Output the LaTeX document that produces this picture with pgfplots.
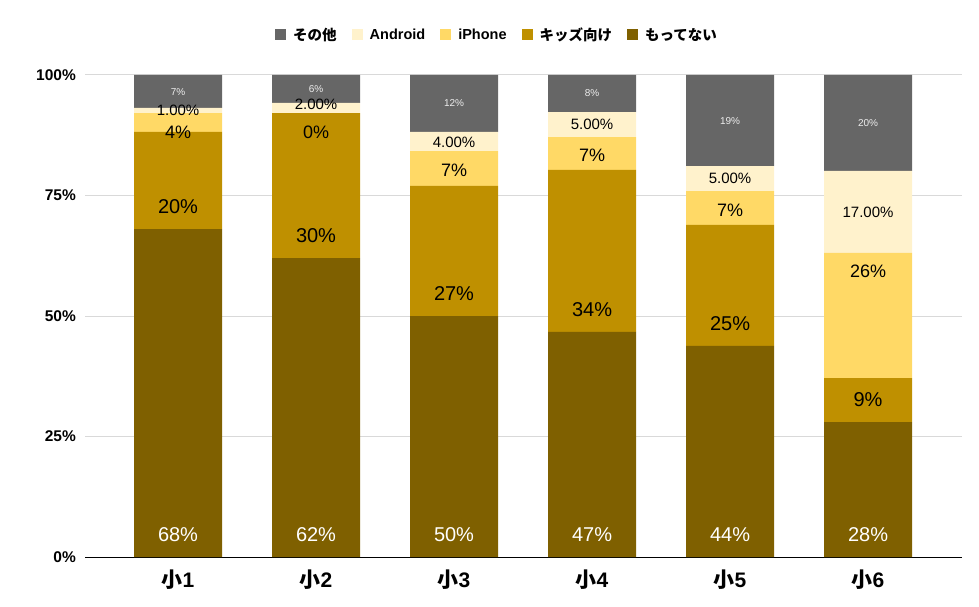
\documentclass[border=0pt]{standalone}
\usepackage{fontspec}
\setmainfont{Liberation Sans}
\newfontfamily\cjk{Noto Sans CJK JP}
\usepackage{pgfplots}
\usepackage{pgfplotstable}
\pgfplotsset{compat=1.18}
\definecolor{cOther}{HTML}{666666}
\definecolor{cAnd}{HTML}{FFF2CC}
\definecolor{cIph}{HTML}{FFD966}
\definecolor{cKid}{HTML}{BF9000}
\definecolor{cMot}{HTML}{7F6000}
\definecolor{cGrid}{HTML}{D9D9D9}
\pgfplotsset{sqlegend/.style={legend image code/.code={\fill[##1] (0pt,-5.5pt) rectangle (11pt,5.5pt);}}}

\pgfplotstableread{
x mot kid iph and oth
0 68   20.2 3.9 1.1 6.8
1 62   30.1 0   2.1 5.8
2 50   27   7.2 4   11.8
3 46.7 33.6 6.8 5.2 7.7
4 43.8 25.1 7   5.2 18.9
5 28   9.1  26  17  19.9
}\bars

\pgfplotstableread{
x y lab
0 4.6 68
1 4.6 62
2 4.6 50
3 4.6 47
4 4.6 44
5 4.6 28
}\labMot
\pgfplotstableread{
x y lab
0 72.6 20
1 66.7 30
2 54.7 27
3 51.3 34
4 48.4 25
5 32.6 9
}\labKid
\pgfplotstableread{
x y lab
0 88.2 4
1 88.2 0
2 80.2 7
3 83.3 7
4 72.0 7
5 59.2 26
}\labIph
\pgfplotstableread{
x y lab
0 92.7 1.00
1 94.0 2.00
2 86.0 4.00
3 89.7 5.00
4 78.5 5.00
5 71.6 17.00
}\labAnd
\pgfplotstableread{
x y lab
0 96.5 7
1 97.1 6
2 94.1 12
3 96.2 8
4 90.5 19
5 90.0 20
}\labOth

\begin{document}
\begin{tikzpicture}
\path[use as bounding box] (0,0) rectangle (979pt,606pt);
\pgfplotsset{common/.style={
  scale only axis, width=877pt, height=482pt,
  xmin=-0.674, xmax=5.681, ymin=0, ymax=100,
  at={(85pt,49pt)}, anchor=south west}}
\begin{axis}[common,
  ybar stacked, bar width=88pt,
  axis x line*=bottom, axis y line*=left,
  x axis line style={black, line width=1pt},
  y axis line style={draw=none},
  major tick length=0pt,
  xtick={0,1,2,3,4,5},
  xticklabels={{{\cjk\bfseries 小}\textbf{1}},{{\cjk\bfseries 小}\textbf{2}},{{\cjk\bfseries 小}\textbf{3}},{{\cjk\bfseries 小}\textbf{4}},{{\cjk\bfseries 小}\textbf{5}},{{\cjk\bfseries 小}\textbf{6}}},
  xticklabel style={anchor=center, yshift=-23pt, font=\fontsize{21}{24}\selectfont},
  ytick={0,25,50,75,100},
  yticklabels={0\%,25\%,50\%,75\%,100\%},
  yticklabel style={anchor=east, inner sep=0pt, xshift=-9pt, font=\bfseries\fontsize{15.5}{18}\selectfont},
  ymajorgrids, grid style={cGrid, line width=1pt},
  legend columns=5, reverse legend,
  legend cell align=left,
  legend style={draw=none, fill=none, at={(0.4698,1.083)}, anchor=center,
    font=\bfseries\fontsize{14.5}{17}\selectfont,
    /tikz/every odd column/.append style={column sep=5pt},
    /tikz/every even column/.append style={column sep=13pt}},
]
\addplot[fill=cMot, draw=none, sqlegend] table[x=x,y=mot]{\bars};
\addplot[fill=cKid, draw=none, sqlegend] table[x=x,y=kid]{\bars};
\addplot[fill=cIph, draw=none, sqlegend] table[x=x,y=iph]{\bars};
\addplot[fill=cAnd, draw=none, sqlegend] table[x=x,y=and]{\bars};
\addplot[fill=cOther, draw=none, sqlegend] table[x=x,y=oth]{\bars};
\legend{{\cjk\bfseries もってない},{\cjk\bfseries キッズ向け},iPhone,Android,{\cjk\bfseries その他}}
\end{axis}
\begin{axis}[common, hide axis, clip=false]
\addplot[draw=none, mark=none, point meta=explicit symbolic,
  nodes near coords={\pgfplotspointmeta\%},
  every node near coord/.style={anchor=center, text=white, font=\fontsize{20}{22}\selectfont}]
  table[x=x,y=y,meta=lab]{\labMot};
\addplot[draw=none, mark=none, point meta=explicit symbolic,
  nodes near coords={\pgfplotspointmeta\%},
  every node near coord/.style={anchor=center, text=black, font=\fontsize{20}{22}\selectfont}]
  table[x=x,y=y,meta=lab]{\labKid};
\addplot[draw=none, mark=none, point meta=explicit symbolic,
  nodes near coords={\pgfplotspointmeta\%},
  every node near coord/.style={anchor=center, text=black, font=\fontsize{18}{20}\selectfont}]
  table[x=x,y=y,meta=lab]{\labIph};
\addplot[draw=none, mark=none, point meta=explicit symbolic,
  nodes near coords={\pgfplotspointmeta\%},
  every node near coord/.style={anchor=center, text=black, font=\fontsize{15}{17}\selectfont}]
  table[x=x,y=y,meta=lab]{\labAnd};
\addplot[draw=none, mark=none, point meta=explicit symbolic,
  nodes near coords={\pgfplotspointmeta\%},
  every node near coord/.style={anchor=center, text=white!93!black, font=\fontsize{10}{12}\selectfont}]
  table[x=x,y=y,meta=lab]{\labOth};
\end{axis}
\end{tikzpicture}
\end{document}
